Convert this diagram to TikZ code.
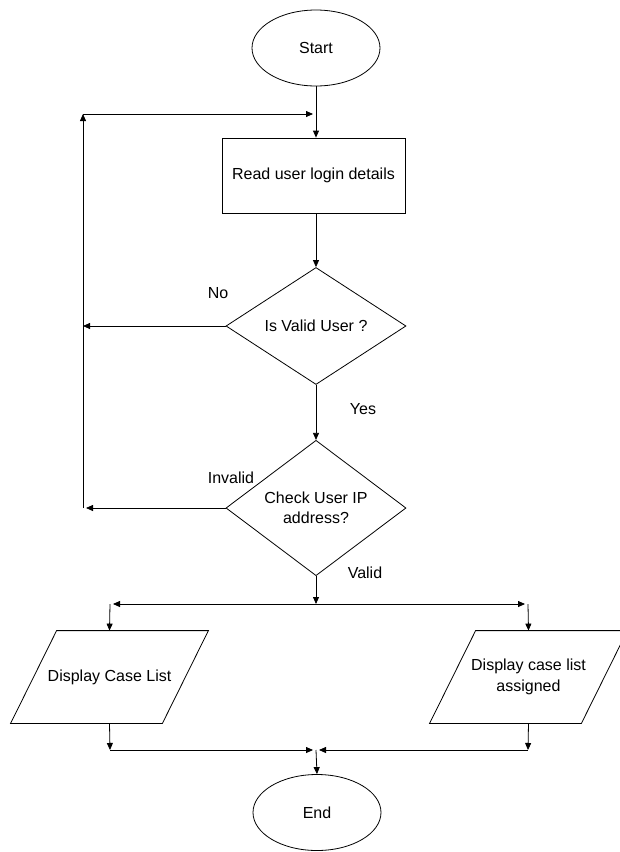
\documentclass[tikz,border=0pt]{standalone}
\usepackage{fontspec}
\setmainfont{Liberation Sans}
\usetikzlibrary{arrows.meta}
\usetikzlibrary{shapes.geometric}
\usetikzlibrary{positioning}
\tikzset{flow/.style = {draw, line width=0.8pt, align=center,
                        font=\fontsize{16}{20.5}\selectfont}}
\tikzset{terminal/.style = {flow, ellipse, minimum width=128pt, minimum height=76pt}}
\tikzset{process/.style = {flow, rectangle, minimum width=183pt, minimum height=75pt}}
\tikzset{decision/.style = {flow, diamond, inner sep=0pt,
                            minimum width=180pt, minimum height=117pt}}
\tikzset{io/.style = {flow, draw=none, rectangle, minimum width=151pt, minimum height=92pt}}
\tikzset{conn/.style = {line width=0.8pt, -{Triangle[length=7pt, width=6pt]}}}
\tikzset{conn gap/.style = {conn, shorten >=3pt}}
\tikzset{tag/.style = {font=\fontsize{16}{20}\selectfont}}

\begin{document}
\begin{tikzpicture}[x=1pt, y=-1pt]
    \useasboundingbox (0, 0) rectangle (619, 852);

    \node [terminal] (start) at (316, 48) {Start};
    \node [process] (read) at (313.5, 175.5) {Read user login details};
    \node [decision] (isvalid) at (316, 326) {Is Valid User ?};
    \node [decision] (ipcheck) at (316, 508) {Check User IP\\address?};
    \node [io] (showall) at (109.5, 677) {Display Case List};
    \node [io] (showmine) at (528.5, 677) {Display case list\\assigned};
    \node [terminal] (end) at (317, 812.5) {End};

    % slanted sides of the two output boxes
    \foreach \panel in {showall, showmine}
      \draw [line width=0.8pt] ([xshift=23pt]\panel.north west) -- ([xshift=23pt]\panel.north east)
        -- ([xshift=-23pt]\panel.south east) -- ([xshift=-23pt]\panel.south west) -- cycle;

    \node [tag] (no) at (218, 293) {No};
    \node [tag] (yes) at (363, 409) {Yes};
    \node [tag] (invalid) at (231, 478) {Invalid};
    \node [tag] (valid) at (365, 573) {Valid};

    \coordinate (loop top) at (83, 114);
    \coordinate (loop mid) at (83, 326);
    \coordinate (loop bot) at (83, 508);
    \coordinate (fork) at (316, 604);
    \coordinate (fork left) at (110, 604);
    \coordinate (fork right) at (528, 604);
    \coordinate (join) at (316, 750);
    \coordinate (join left) at (110, 750);
    \coordinate (join right) at (528, 750);

    % main line
    \draw [conn] (start.south) -- (start.south |- read.north);
    \draw [conn] (read.south -| isvalid.north) -- (isvalid.north);
    \draw [conn] (isvalid.south) -- (ipcheck.north);
    \draw [conn] (ipcheck.south) -- (fork);

    % back to login
    \draw [conn] (isvalid.west) -- (loop mid);
    \draw [conn gap] (ipcheck.west) -- (loop bot);
    \draw [conn] (loop bot) -- (loop top);
    \draw [conn gap] (loop top) -- (loop top -| start.south);

    % the two lists
    \draw [conn gap] (fork) -- (fork left);
    \draw [conn gap] (fork) -- (fork right);
    \draw [conn] (fork left) -- (showall.north);
    \draw [conn] (fork right) -- (showmine.north);
    \draw [conn] (showall.south) -- (join left);
    \draw [conn] (showmine.south) -- (join right);
    \draw [conn gap] (join left) -- (join);
    \draw [conn gap] (join right) -- (join);
    \draw [conn] (join) -- (end.north);
  \end{tikzpicture}
\end{document}
